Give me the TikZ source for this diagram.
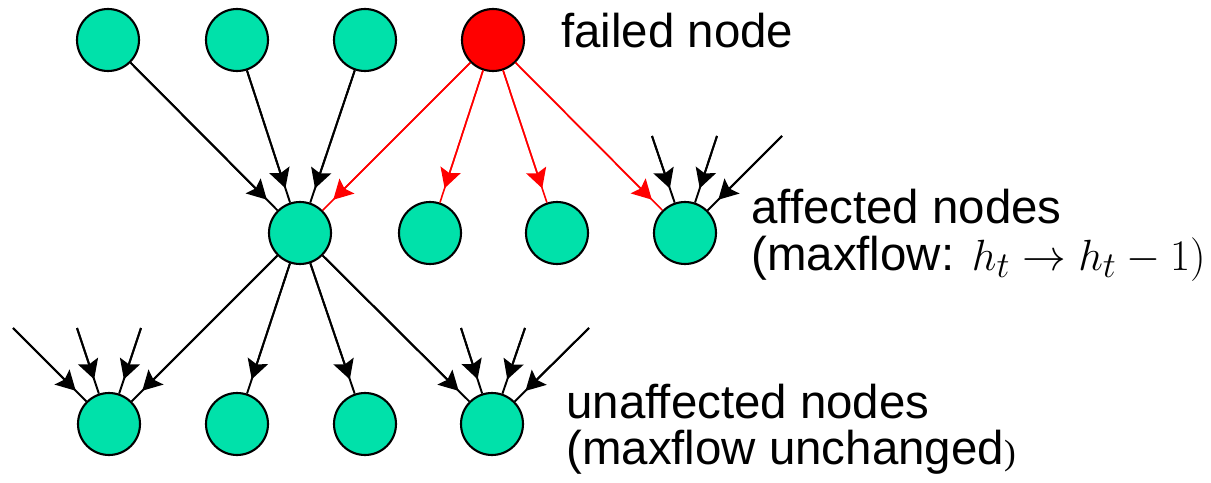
\documentclass[tikz,border=0pt]{standalone}
\usepackage[no-math]{fontspec}
\setmainfont{Liberation Sans}
\newfontfamily\timesfont{Liberation Serif}
\usepackage{amsmath}
\usepackage[]{xcolor}
\usepackage{tikz}
\usetikzlibrary{arrows.meta}
\definecolor{flowgreen}{RGB}{0,225,170}

\begin{document}
\begin{tikzpicture}[x=0.02cm,y=-0.02cm]
\tikzstyle{dots}=[circle,draw=black,line width=1.2pt,fill=flowgreen,minimum size=1.24cm,inner sep=0pt]
\tikzstyle{failed}=[dots,fill=red]
\tikzstyle{lines1}=[line width=1.1pt,black,postaction={draw,-{Stealth[length=11pt,width=12pt,inset=2pt]},shorten >=0.3cm}]
\tikzstyle{lines2}=[lines1,red,line width=0.9pt]
\tikzstyle{label}=[anchor=base west,inner sep=0pt,font=\fontsize{27}{30}\selectfont]

\useasboundingbox (0,0) rectangle (1211,483);

\draw[shift={(108,40)}] node[dots] (t1) {};
\draw[shift={(237,40)}] node[dots] (t2) {};
\draw[shift={(365,40)}] node[dots] (t3) {};
\draw[shift={(493,40)}] node[failed] (f) {};
\draw[shift={(300,233)}] node[dots] (c) {};
\draw[shift={(430,233)}] node[dots] (a1) {};
\draw[shift={(557,233)}] node[dots] (a2) {};
\draw[shift={(685,233)}] node[dots] (a3) {};
\draw[shift={(109,424)}] node[dots] (b1) {};
\draw[shift={(237,424)}] node[dots] (b2) {};
\draw[shift={(365,424)}] node[dots] (b3) {};
\draw[shift={(492,424)}] node[dots] (b4) {};

\coordinate (b1in1) at (13,328);
\coordinate (b1in2) at (77,328);
\coordinate (b1in3) at (141,328);
\coordinate (b4in1) at (461,328);
\coordinate (b4in2) at (525,328);
\coordinate (b4in3) at (589,328);
\coordinate (a3in1) at (652,136);
\coordinate (a3in2) at (717,136);
\coordinate (a3in3) at (782,136);

\draw[lines1] (t1) -- (c);
\draw[lines1] (t2) -- (c);
\draw[lines1] (t3) -- (c);
\draw[lines2] (f) -- (c);
\draw[lines2] (f) -- (a1);
\draw[lines2] (f) -- (a2);
\draw[lines2] (f) -- (a3);
\draw[lines1] (c) -- (b1);
\draw[lines1] (c) -- (b2);
\draw[lines1] (c) -- (b3);
\draw[lines1] (c) -- (b4);
\draw[lines1] (b1in1) -- (b1);
\draw[lines1] (b1in2) -- (b1);
\draw[lines1] (b1in3) -- (b1);
\draw[lines1] (b4in1) -- (b4);
\draw[lines1] (b4in2) -- (b4);
\draw[lines1] (b4in3) -- (b4);
\draw[lines1] (a3in1) -- (a3);
\draw[lines1] (a3in2) -- (a3);
\draw[lines1] (a3in3) -- (a3);

\node[label] (lf) at (561,48) {failed node};
\node[label] (la1) at (751,223) {affected nodes};
\node[label] (la2) at (751,270) {(maxflow: {\fontsize{29}{30}\selectfont$h_t \rightarrow h_t - 1)$}};
\node[label] (lu1) at (566,418) {unaffected nodes};
\node[label] (lu2) at (566,464) {(maxflow unchanged{\timesfont\fontsize{20}{20}\selectfont )}};
\end{tikzpicture}
\end{document}
